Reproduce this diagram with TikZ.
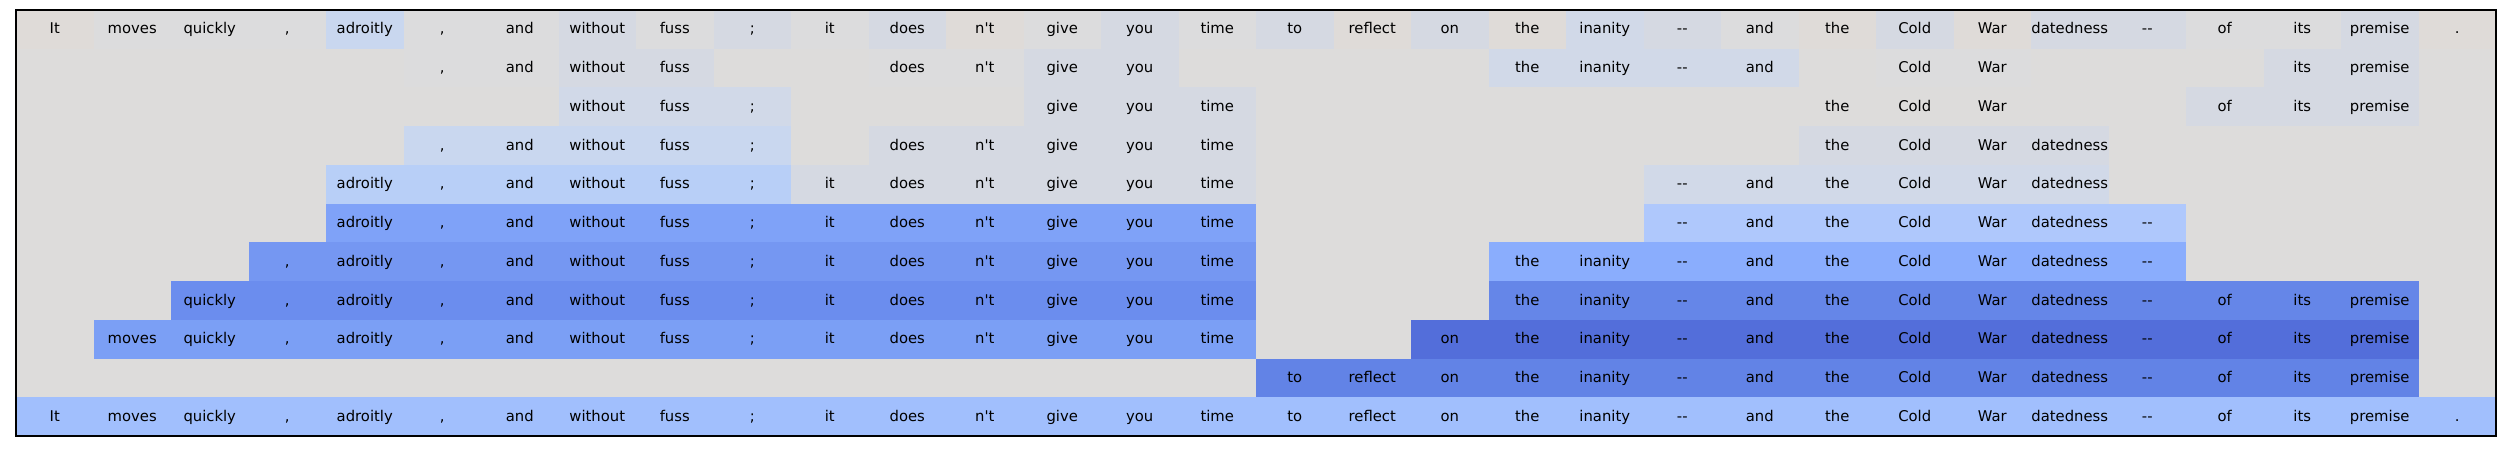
\documentclass[tikz,border=0pt]{standalone}
\usepackage{fontspec}
\setmainfont{DejaVu Sans}
\usetikzlibrary{positioning}

\definecolor{base}{HTML}{DDDCDB}
\definecolor{grey}{HTML}{DCDCDD}
\definecolor{warm}{HTML}{DFDBD8}
\definecolor{mist}{HTML}{D5D9E2}
\definecolor{haze}{HTML}{D1D9E8}
\definecolor{frost}{HTML}{C9D7EF}
\definecolor{ice}{HTML}{B8CFF7}
\definecolor{sky}{HTML}{AFC8FC}
\definecolor{flower}{HTML}{8AADFD}
\definecolor{pale}{HTML}{A1BFFD}
\definecolor{mid}{HTML}{7FA2F8}
\definecolor{midb}{HTML}{7597F2}
\definecolor{deep}{HTML}{6B8DEE}
\definecolor{deepb}{HTML}{6586E8}
\definecolor{deepc}{HTML}{7B9FF5}
\definecolor{dark}{HTML}{536EDA}
\definecolor{darkb}{HTML}{6283E6}

\newcommand{\tokens}{It,moves,quickly,{,},adroitly,{,},and,without,fuss,;,it,does,n\textquotesingle t,give,you,time,to,reflect,on,the,inanity,-{}-,and,the,Cold,War,datedness,-{}-,of,its,premise,.}

% one coloured run of tokens: row, first column, last column, colour
\newcommand{\band}[4]{%
  \fill[#4] ({16+77.5*#2},{441-38.727*#1}) rectangle ({16+77.5*(#3+1)},{441-38.727*(#1+1)});
  \foreach \w [count=\col from 0] in \tokens {%
    \ifnum\col<#2\relax\else\ifnum\col>#3\relax\else
      \node[tok] (r#1c\col) at ({54.75+77.5*\col},{417-38.727*#1}) {\w};
    \fi\fi}}

\begin{document}
\begin{tikzpicture}[
            x=1pt, y=1pt,
            tok/.style  ={anchor=base, inner sep=0pt, text=black,
                          font=\fontsize{14.8}{16}\selectfont},
            frame/.style={draw=black, line width=1.2pt}
        ]
            \useasboundingbox (0,0) rectangle (2504,451);
            \fill[base] (16,15) rectangle (2496,441);

            % top row, one colour per token
            \foreach \k/\hue in {0/warm,1/grey,2/grey,3/grey,4/frost,5/grey,6/grey,7/mist,
                                 8/grey,9/mist,10/grey,11/mist,12/warm,13/grey,14/mist,15/grey,
                                 16/mist,17/warm,18/mist,19/warm,20/haze,21/mist,22/grey,23/warm,
                                 24/mist,25/warm,26/mist,27/mist,28/grey,29/grey,30/mist,31/warm}
                {\band{0}{\k}{\k}{\hue}}

            \band{1}{5}{6}{grey}  \band{1}{7}{8}{mist}  \band{1}{11}{12}{grey}
            \band{1}{13}{14}{mist} \band{1}{19}{22}{haze} \band{1}{24}{25}{grey}
            \band{1}{29}{30}{mist}

            \band{2}{7}{9}{haze}  \band{2}{13}{15}{mist} \band{2}{23}{25}{base}
            \band{2}{28}{30}{mist}

            \band{3}{5}{9}{frost} \band{3}{11}{15}{mist} \band{3}{23}{26}{mist}

            \band{4}{4}{9}{ice}   \band{4}{10}{15}{mist} \band{4}{21}{26}{haze}

            \band{5}{4}{15}{mid}  \band{5}{21}{27}{sky}
            \band{6}{3}{15}{midb} \band{6}{19}{27}{flower}
            \band{7}{2}{15}{deep} \band{7}{19}{30}{deepb}
            \band{8}{1}{15}{deepc} \band{8}{18}{30}{dark}
            \band{9}{16}{30}{darkb}
            \band{10}{0}{31}{pale}

            \draw[frame] (16,15) rectangle (2496,441);
        \end{tikzpicture}
\end{document}
